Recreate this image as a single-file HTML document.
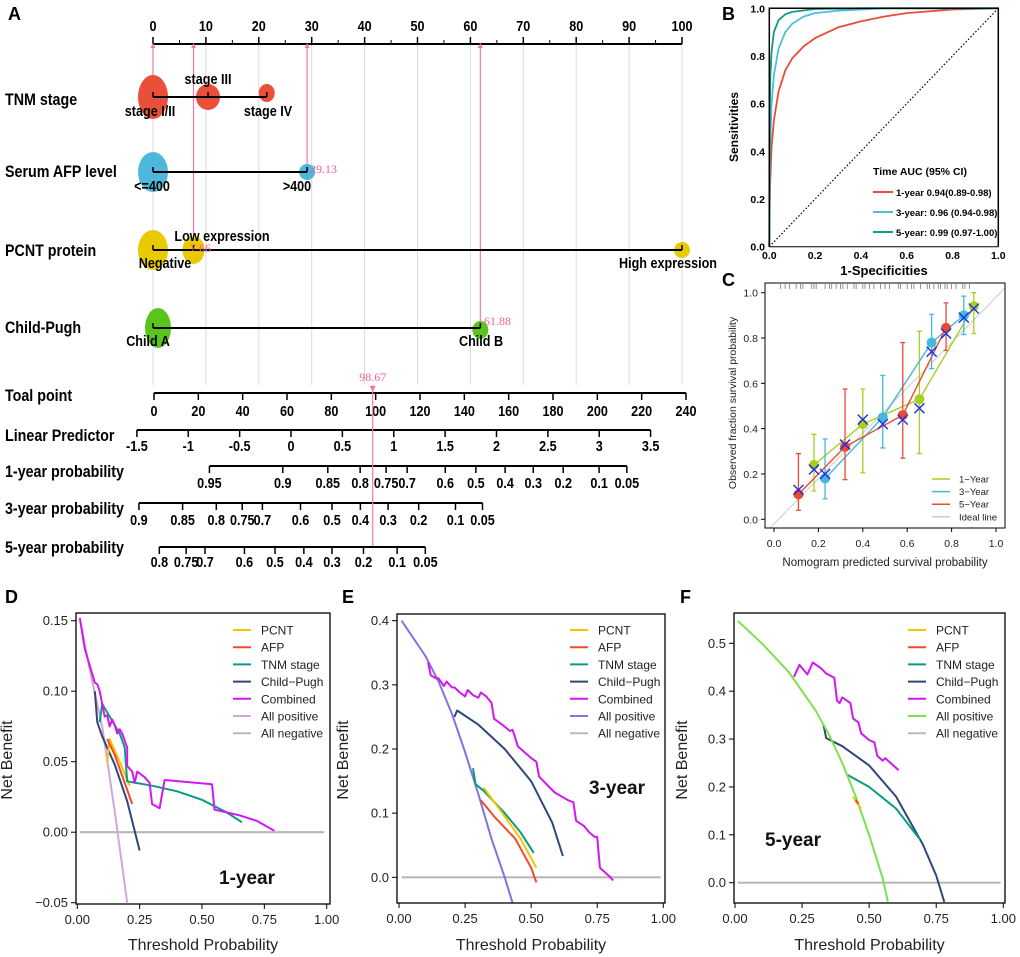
<!DOCTYPE html>
<html><head><meta charset="utf-8">
<style>
html,body{margin:0;padding:0;background:#fff;}
svg{display:block;font-family:"Liberation Sans",sans-serif;}
.nar{font-family:"Liberation Sans Narrow","Liberation Sans",sans-serif;font-weight:bold;}
</style></head>
<body>
<svg id="fig" width="1020" height="957" viewBox="0 0 1020 957"></svg>
<script>
// ---------- Nomogram data ----------
const pointTicks=[0,10,20,30,40,50,60,70,80,90,100];
const tnmLevels=['stage I/II','stage III','stage IV'];
const tnmPoints=[0,10.4,21.5];
const afpLevels=['<=400','>400'];
const afpPoints=[0,29.13];
const pcntLevels=['Negative','Low expression','High expression'];
const pcntPoints=[0,7.66,100];
const childLevels=['Child A','Child B'];
const childPoints=[0,61.88];
const totalTicks=[0,20,40,60,80,100,120,140,160,180,200,220,240];
const linearTicks=[-1.5,-1,-0.5,0,0.5,1,1.5,2,2.5,3,3.5];
const prob1Labels=['0.95','0.9','0.85','0.8','0.75','0.7','0.6','0.5','0.4','0.3','0.2','0.1','0.05'];
const prob1Total=[25.0,58.1,78.4,93.0,104.7,114.2,131.4,145.2,158.4,171.1,184.6,200.8,213.3];
const prob3Labels=['0.9','0.85','0.8','0.75','0.7','0.6','0.5','0.4','0.3','0.2','0.1','0.05'];
const prob3Total=[-6.8,12.9,28.1,39.8,48.9,66.1,80.3,93.1,105.6,119.4,136.0,148.2];
const prob5Labels=['0.8','0.75','0.7','0.6','0.5','0.4','0.3','0.2','0.1','0.05'];
const prob5Total=[2.4,14.5,23.0,40.8,54.6,67.6,80.3,94.5,109.7,122.4];
const totalScore=98.67;

// ---------- ROC data (panel B) ----------
const rocFpr1=[0,0.003,0.01,0.02,0.04,0.07,0.1,0.15,0.2,0.3,0.4,0.5,0.6,0.8,1];
const rocTpr1=[0,0.25,0.42,0.53,0.65,0.74,0.79,0.84,0.875,0.92,0.945,0.965,0.98,0.995,1];
const rocFpr3=[0,0.003,0.01,0.02,0.04,0.07,0.1,0.15,0.2,0.3,0.5,1];
const rocTpr3=[0,0.4,0.6,0.72,0.83,0.9,0.935,0.965,0.98,0.99,1,1];
const rocFpr5=[0,0.002,0.005,0.01,0.02,0.04,0.07,0.1,0.2,0.4,1];
const rocTpr5=[0,0.55,0.72,0.82,0.9,0.95,0.975,0.985,0.997,1,1];
const rocLabels=['1-year 0.94(0.89-0.98)','3-year: 0.96 (0.94-0.98)','5-year: 0.99 (0.97-1.00)'];

// ---------- Calibration data (panel C) ----------
const cal1X=[0.18,0.40,0.655,0.90], cal1Y=[0.24,0.42,0.53,0.94], cal1Lo=[0.125,0.205,0.29,0.82], cal1Hi=[0.375,0.575,0.83,1.0];
const cal3X=[0.23,0.49,0.71,0.855], cal3Y=[0.18,0.45,0.78,0.90], cal3Lo=[0.09,0.315,0.665,0.815], cal3Hi=[0.355,0.635,0.905,0.985];
const cal5X=[0.11,0.32,0.58,0.775], cal5Y=[0.11,0.32,0.46,0.845], cal5Lo=[0.04,0.175,0.27,0.745], cal5Hi=[0.29,0.575,0.78,0.955];
const calCorrX=[0.11,0.18,0.23,0.32,0.40,0.49,0.58,0.655,0.71,0.775,0.855,0.90];
const calCorrY=[0.13,0.22,0.20,0.33,0.44,0.42,0.44,0.49,0.74,0.82,0.89,0.93];
const rugX=[0.03,0.05,0.07,0.1,0.12,0.13,0.17,0.18,0.19,0.23,0.25,0.26,0.28,0.3,0.31,0.33,0.36,0.37,0.4,0.41,0.43,0.45,0.48,0.5,0.52,0.56,0.57,0.6,0.62,0.63,0.66,0.69,0.7,0.72,0.74,0.75,0.77,0.78,0.8,0.82,0.85,0.86,0.88];

// ---------- DCA data D (1-year) ----------
const dAllPosX=[0.01,0.05,0.1,0.15,0.2], dAllPosY=[0.152,0.115,0.075,0.015,-0.05];
const dCombX=[0.01,0.03,0.05,0.07,0.08,0.09,0.1,0.11,0.12,0.13,0.14,0.15,0.16,0.17,0.18,0.2,0.2,0.22,0.23,0.24,0.27,0.29,0.3,0.33,0.35,0.54,0.55,0.65,0.72,0.79];
const dCombY=[0.152,0.13,0.118,0.106,0.105,0.1,0.091,0.082,0.083,0.075,0.08,0.076,0.07,0.073,0.07,0.06,0.047,0.043,0.035,0.043,0.039,0.035,0.02,0.017,0.037,0.034,0.016,0.012,0.008,0.001];
const dTnmX=[0.09,0.1,0.13,0.17,0.19,0.2,0.3,0.4,0.5,0.6,0.66], dTnmY=[0.078,0.091,0.082,0.07,0.06,0.036,0.033,0.029,0.023,0.014,0.007];
const dChildX=[0.07,0.08,0.1,0.15,0.2,0.25], dChildY=[0.1,0.078,0.068,0.048,0.022,-0.013];
const dAfpX=[0.12,0.15,0.22], dAfpY=[0.066,0.055,0.02];
const dPcntX=[0.12,0.13,0.17,0.21], dPcntY=[0.05,0.066,0.05,0.033];
// ---------- DCA data E (3-year) ----------
const eAllPosX=[0.01,0.1,0.15,0.2,0.25,0.3,0.35,0.4,0.43], eAllPosY=[0.4,0.345,0.305,0.255,0.195,0.13,0.06,0.0,-0.04];
const eCombX=[0.11,0.12,0.14,0.15,0.17,0.18,0.2,0.21,0.23,0.25,0.26,0.28,0.3,0.31,0.33,0.35,0.36,0.39,0.42,0.43,0.45,0.5,0.52,0.53,0.57,0.59,0.64,0.66,0.67,0.7,0.72,0.74,0.75,0.76,0.8,0.81];
const eCombY=[0.335,0.315,0.31,0.31,0.298,0.305,0.296,0.296,0.288,0.282,0.292,0.284,0.28,0.288,0.282,0.272,0.247,0.238,0.228,0.23,0.204,0.186,0.18,0.157,0.14,0.132,0.12,0.117,0.088,0.08,0.07,0.063,0.063,0.015,0.0,-0.005];
const eChildX=[0.21,0.22,0.3,0.4,0.5,0.58,0.62], eChildY=[0.25,0.26,0.238,0.2,0.15,0.085,0.033];
const eTnmX=[0.28,0.29,0.32,0.4,0.46,0.51], eTnmY=[0.17,0.145,0.135,0.1,0.07,0.038];
const ePcntX=[0.32,0.4,0.46,0.52], ePcntY=[0.14,0.095,0.06,0.015];
const eAfpX=[0.31,0.36,0.44,0.5,0.52], eAfpY=[0.12,0.095,0.06,0.015,-0.008];
// ---------- DCA data F (5-year) ----------
const fAllPosX=[0.01,0.1,0.2,0.3,0.35,0.4,0.45,0.5,0.55,0.57], fAllPosY=[0.547,0.5,0.44,0.36,0.31,0.25,0.18,0.1,0.01,-0.04];
const fCombX=[0.22,0.24,0.27,0.29,0.32,0.34,0.37,0.38,0.39,0.4,0.43,0.44,0.46,0.47,0.5,0.52,0.53,0.55,0.56,0.58,0.61];
const fCombY=[0.43,0.455,0.435,0.46,0.448,0.437,0.428,0.38,0.375,0.387,0.375,0.343,0.335,0.312,0.298,0.293,0.265,0.255,0.26,0.25,0.235];
const fChildX=[0.33,0.34,0.4,0.5,0.6,0.7,0.75,0.78], fChildY=[0.33,0.302,0.285,0.245,0.18,0.08,0.015,-0.04];
const fTnmX=[0.42,0.5,0.6,0.69], fTnmY=[0.225,0.2,0.155,0.09];
const fPcntX=[0.44,0.45,0.47], fPcntY=[0.18,0.17,0.155];
const fAfpX=[0.45,0.46], fAfpY=[0.172,0.165];

const dcaLegend=['PCNT','AFP','TNM stage','Child\u2212Pugh','Combined','All positive','All negative'];

const NS='http://www.w3.org/2000/svg';
const svg=document.getElementById('fig');
function mk(p,tag,a,t){const e=document.createElementNS(NS,tag);for(const k in a)e.setAttribute(k,a[k]);if(t!=null)e.textContent=t;p.appendChild(e);return e;}
function poly(xs,ys,sx,sy){return xs.map((x,i)=>sx(x).toFixed(1)+','+sy(ys[i]).toFixed(1)).join(' ');}
// condensed text for nomogram
function ntext(p,x,y,size,anchor,str){return mk(p,'text',{x:0,y:0,'font-size':size,'text-anchor':anchor,class:'nar',transform:`translate(${x},${y}) scale(0.84,1)`},str);}

// ===================== Panel A: nomogram =====================
const gA=mk(svg,'g',{});


let lab=mk(gA,'text',{x:8,y:20,'font-size':18,'font-weight':'bold'},'A');


const px=p=>153+p*5.29;
const tx=t=>154+t*(532/240);
const lpx=v=>136.9+(v+1.5)*102.74;
for(let p=0;p<=100;p+=10){
  const g=mk(gA,'line',{x1:px(p),x2:px(p),y1:44,y2:385,stroke:'#dcdcdc','stroke-width':1});
  
  
}
let pa=mk(gA,'line',{x1:px(0),x2:px(100),y1:44,y2:44,stroke:'#000','stroke-width':2});


pointTicks.forEach(p=>{
  const t=mk(gA,'line',{x1:px(p),x2:px(p),y1:37,y2:44,stroke:'#000','stroke-width':1.5});
  
  
  const l=ntext(gA,px(p),31,15,'middle',String(p));
  
  
});
for(let p=0;p<=100;p+=5){const t=mk(gA,'line',{x1:px(p),x2:px(p),y1:40,y2:44,stroke:'#000'});}
[[0,92],[pcntPoints[1],246],[afpPoints[1],168],[childPoints[1],325]].forEach(([p,y2])=>{
  const l=mk(gA,'line',{x1:px(p),x2:px(p),y1:44,y2:y2,stroke:'#f07aa8','stroke-width':1.2});
  
  
  const a=mk(gA,'polygon',{points:`${px(p)-2.5},48 ${px(p)+2.5},48 ${px(p)},43`,fill:'#f07aa8'});
  
  
});
function varRow(name,levels,pts,y,color,sizes,labelPos,title,ty,score,scorePos){
  const t=ntext(gA,5,ty,17,'start',title);
  
  
  levels.forEach((lv,i)=>{
    const e=mk(gA,'ellipse',{cx:px(pts[i])+(sizes[i][2]||0),cy:y+(sizes[i][3]||0),rx:sizes[i][0],ry:sizes[i][1],fill:color});
    
    
  });
  const ln=mk(gA,'line',{x1:px(pts[0]),x2:px(Math.max(...pts)),y1:y,y2:y,stroke:'#000','stroke-width':2});
  
  
  pts.forEach(p=>{const k=mk(gA,'line',{x1:px(p),x2:px(p),y1:y-5,y2:y,stroke:'#000','stroke-width':1.5});});
  levels.forEach((lv,i)=>{
    const l=ntext(gA,labelPos[i][0],labelPos[i][1],15,labelPos[i][2]||'middle',lv);
    
    
  });
  if(score!=null){
    const s=mk(gA,'text',{x:scorePos[0],y:scorePos[1],'font-size':12,fill:'#f0609a','font-family':'Liberation Serif,serif'},score.toFixed(2));
    
    
  }
}
varRow('tnm-stage',tnmLevels,tnmPoints,97,'#e8503a',[[15,22],[12,13],[8,9,0,-4]],[[150,116],[208,84],[268,116]],'TNM stage',105,null);
varRow('serum-afp',afpLevels,afpPoints,172,'#4cb9dc',[[15,20],[8,8]],[[152,191],[297,191]],'Serum AFP level',177,afpPoints[1],[310,173]);
varRow('pcnt-protein',pcntLevels,pcntPoints,250,'#e9c900',[[15,20],[11,14],[8,8]],[[165,268],[222,241],[668,268]],'PCNT protein',256,pcntPoints[1],[190,252]);
varRow('child-pugh',childLevels,childPoints,328,'#59c41c',[[13,20,5],[8,9,0,2]],[[148,346],[481,346]],'Child-Pugh',333,childPoints[1],[484,325]);
function scaleRow(name,title,ty,y,xs,labels,ly){
  const t=ntext(gA,5,ty,17,'start',title);
  
  
  const l=mk(gA,'line',{x1:Math.min(...xs),x2:Math.max(...xs),y1:y,y2:y,stroke:'#000','stroke-width':2});
  
  
  xs.forEach((x,i)=>{
    const k=mk(gA,'line',{x1:x,x2:x,y1:y,y2:y+7,stroke:'#000','stroke-width':1.5});
    
    
    const tl=ntext(gA,x,ly,15,'middle',labels[i]);
    
    
  });
}
scaleRow('total-point','Toal point',401,393,totalTicks.map(tx),totalTicks.map(String),416);
scaleRow('linear-predictor','Linear Predictor',441,430,linearTicks.map(lpx),linearTicks.map(String),451);
scaleRow('prob-1-year','1-year probability',477,466,prob1Total.map(tx),prob1Labels,488);
scaleRow('prob-3-year','3-year probability',514,503,prob3Total.map(tx),prob3Labels,525);
scaleRow('prob-5-year','5-year probability',553,547,prob5Total.map(tx),prob5Labels,567);
let tl=mk(gA,'line',{x1:tx(totalScore),x2:tx(totalScore),y1:385,y2:546,stroke:'#f07aa8','stroke-width':1.2});


let ts=mk(gA,'text',{x:tx(totalScore),y:381,'font-size':12,fill:'#f0609a','text-anchor':'middle','font-family':'Liberation Serif,serif'},totalScore.toFixed(2));


let ta=mk(gA,'polygon',{points:`${tx(totalScore)-3},386 ${tx(totalScore)+3},386 ${tx(totalScore)},392`,fill:'#f07aa8'});



// ===================== Panel B: ROC =====================
const gB=mk(svg,'g',{});


lab=mk(gB,'text',{x:722,y:20,'font-size':18,'font-weight':'bold'},'B');


const bx=v=>769.3+v*229, by=v=>246.7-v*238.4;
let diag=mk(gB,'line',{x1:bx(0),y1:by(0),x2:bx(1),y2:by(1),stroke:'#000','stroke-width':1.2,'stroke-dasharray':'1.5,2'});


[[rocFpr1,rocTpr1,'#ec4b38'],[rocFpr3,rocTpr3,'#4dbfdc'],[rocFpr5,rocTpr5,'#0b9e80']].forEach(([xs,ys,c],i)=>{
  const p=mk(gB,'polyline',{points:poly(xs,ys,bx,by),fill:'none',stroke:c,'stroke-width':1.8,'stroke-linejoin':'round'});
  
  
  const ll=mk(gB,'line',{x1:873,x2:893,y1:192+i*20,y2:192+i*20,stroke:c,'stroke-width':2});
  
  
  const lt=mk(gB,'text',{x:896,y:196+i*20,'font-size':9.5,'font-weight':'bold'},rocLabels[i]);
  
  
});
let bf=mk(gB,'path',{d:`M${bx(0)},${by(0)} V${by(1)} H${bx(1)} V${by(0)}`,fill:'none',stroke:'#000','stroke-width':1.5});


let bax=mk(gB,'line',{x1:bx(0),x2:bx(1),y1:by(0),y2:by(0),stroke:'#000','stroke-width':1});


let lh=mk(gB,'text',{x:873,y:175,'font-size':10.5,'font-weight':'bold'},'Time AUC (95% CI)');


for(let i=0;i<=5;i++){
  const v=i/5;
  const a=mk(gB,'text',{x:765,y:by(v)+4,'font-size':10.5,'font-weight':'bold','text-anchor':'end'},v.toFixed(1));
  
  
  const b=mk(gB,'text',{x:bx(v),y:259,'font-size':10.5,'font-weight':'bold','text-anchor':'middle'},v.toFixed(1));
  
  
}
let byt=mk(gB,'text',{x:0,y:0,'font-size':12,'font-weight':'bold','text-anchor':'middle',transform:'translate(738,127) rotate(-90)'},'Sensitivities');


let bxt=mk(gB,'text',{x:884,y:275,'font-size':13,'font-weight':'bold','text-anchor':'middle'},'1-Specificities');



// ===================== Panel C: calibration =====================
const gC=mk(svg,'g',{});


lab=mk(gC,'text',{x:722,y:286,'font-size':18,'font-weight':'bold'},'C');


const cx=v=>774+v*222, cy=v=>519.3-v*226.6;
let ideal=mk(gC,'line',{x1:cx(-0.02),y1:cy(-0.04),x2:cx(1.04),y2:cy(1.02),stroke:'#d4d4d4','stroke-width':1.2});


rugX.forEach(v=>{const r=mk(gC,'line',{x1:cx(v),x2:cx(v),y1:284,y2:289,stroke:'#777','stroke-width':0.8});});
[[cal1X,cal1Y,cal1Lo,cal1Hi,'#a6d020','1-year'],[cal3X,cal3Y,cal3Lo,cal3Hi,'#45b8dc','3-year'],[cal5X,cal5Y,cal5Lo,cal5Hi,'#ea4a32','5-year']].forEach(([xs,ys,lo,hi,c,n])=>{
  const p=mk(gC,'polyline',{points:poly(xs,ys,cx,cy),fill:'none',stroke:c,'stroke-width':1.4});
  
  
  xs.forEach((x,i)=>{
    const e=mk(gC,'path',{d:`M${cx(x)-2.5},${cy(lo[i])}H${cx(x)+2.5}M${cx(x)},${cy(lo[i])}V${cy(hi[i])}M${cx(x)-2.5},${cy(hi[i])}H${cx(x)+2.5}`,stroke:c,'stroke-width':1.3,fill:'none'});
    
    
    const d=mk(gC,'circle',{cx:cx(x),cy:cy(ys[i]),r:5,fill:c});
    
    
  });
});
calCorrX.forEach((x,i)=>{
  const X=cx(x),Y=cy(calCorrY[i]);
  const m=mk(gC,'path',{d:`M${X-5},${Y-5}L${X+5},${Y+5}M${X-5},${Y+5}L${X+5},${Y-5}`,stroke:'#1a2ee8','stroke-width':1.4});
  
  
});
let cf=mk(gC,'rect',{x:765,y:283,width:240,height:245,fill:'none',stroke:'#000','stroke-width':1});


for(let i=0;i<=5;i++){
  const v=i/5;
  const a=mk(gC,'text',{x:758,y:cy(v)+4,'font-size':10.5,'text-anchor':'end',fill:'#222'},v.toFixed(1));
  
  
  const at=mk(gC,'line',{x1:761,x2:765,y1:cy(v),y2:cy(v),stroke:'#000'});
  
  
  const b=mk(gC,'text',{x:cx(v),y:547,'font-size':10.5,'text-anchor':'middle',fill:'#222'},v.toFixed(1));
  
  
  const bt=mk(gC,'line',{x1:cx(v),x2:cx(v),y1:528,y2:532,stroke:'#000'});
  
  
}
let cyt=mk(gC,'text',{x:0,y:0,'font-size':10.5,'text-anchor':'middle',fill:'#222',transform:'translate(736,403) rotate(-90)'},'Observed fraction survival probability');


let cxt=mk(gC,'text',{x:885,y:566,'font-size':11.5,'text-anchor':'middle',fill:'#222'},'Nomogram predicted survival probability');


[['1\u2212Year','#a6d020'],['3\u2212Year','#45b8dc'],['5\u2212Year','#ea4a32'],['Ideal line','#cccccc']].forEach(([t,c],i)=>{
  const y=479+i*12.6;
  const s=mk(gC,'line',{x1:932,x2:950,y1:y,y2:y,stroke:c,'stroke-width':1.5});
  
  
  const l=mk(gC,'text',{x:959,y:y+3.5,'font-size':9.5,fill:'#222'},t);
  
  
});

// ===================== Panels D/E/F: DCA =====================
const C_PCNT='#f5c400',C_AFP='#ee4a2c',C_TNM='#0a9c80',C_CHILD='#2e4878',C_COMB='#d218f2',C_NEG='#b8b8b8';
function dca(key,letter,box,xa,ya,yTicks,yDec,series,allPosColor,label,labelPos,legX,labX,ytX,ytY){
  const g=mk(svg,'g',{});
  
  
  const L=mk(g,'text',{x:letter[1],y:603,'font-size':18,'font-weight':'bold'},letter[0]);
  
  
  const sx=v=>xa[0]+v*(xa[1]-xa[0]);
  const sy=v=>ya[0]+(v-ya[2])*(ya[1]-ya[0])/(ya[3]-ya[2]);
  const cp=mk(g,'clipPath',{id:'clip'+key});
  mk(cp,'rect',{x:box[0],y:box[1],width:box[2]-box[0],height:box[3]-box[1]});
  const neg=mk(g,'line',{x1:sx(0.01),x2:sx(0.99),y1:sy(0),y2:sy(0),stroke:C_NEG,'stroke-width':2.2});
  
  
  series.forEach(([xs,ys,c,n])=>{
    const p=mk(g,'polyline',{points:poly(xs,ys,sx,sy),fill:'none',stroke:c,'stroke-width':2,'stroke-linejoin':'round','clip-path':`url(#clip${key})`});
    
    
  });
  const f=mk(g,'rect',{x:box[0],y:box[1],width:box[2]-box[0],height:box[3]-box[1],fill:'none',stroke:'#000','stroke-width':1.3});
  
  
  yTicks.forEach(v=>{
    const t=mk(g,'line',{x1:box[0]-5,x2:box[0],y1:sy(v),y2:sy(v),stroke:'#000'});
    
    
    const l=mk(g,'text',{x:box[0]-8,y:sy(v)+4.5,'font-size':13,'text-anchor':'end',fill:'#222'},(v<0?'\u2212'+Math.abs(v).toFixed(yDec):v.toFixed(yDec)));
    
    
  });
  [0,0.25,0.5,0.75,1].forEach(v=>{
    const t=mk(g,'line',{x1:sx(v),x2:sx(v),y1:box[3],y2:box[3]+5,stroke:'#000'});
    
    
    const l=mk(g,'text',{x:sx(v),y:box[3]+20,'font-size':13,'text-anchor':'middle',fill:'#222'},v.toFixed(2));
    
    
  });
  const xt=mk(g,'text',{x:(box[0]+box[2])/2,y:950,'font-size':16,'text-anchor':'middle',fill:'#222'},'Threshold Probability');
  
  
  const yt=mk(g,'text',{x:0,y:0,'font-size':16,'text-anchor':'middle',fill:'#222',transform:`translate(${ytX},${ytY}) rotate(-90)`},'Net Benefit');
  
  
  const cols=[C_PCNT,C_AFP,C_TNM,C_CHILD,C_COMB,allPosColor,C_NEG];
  dcaLegend.forEach((t,i)=>{
    const y=630+i*17.2;
    const s=mk(g,'line',{x1:legX,x2:legX+18,y1:y,y2:y,stroke:cols[i],'stroke-width':2});
    
    
    const l=mk(g,'text',{x:labX,y:y+4.5,'font-size':12,fill:'#222'},t);
    
    
  });
  const tag=mk(g,'text',{x:labelPos[0],y:labelPos[1],'font-size':19,'font-weight':'bold',fill:'#111'},label);
  
  
}
dca('d',['D',5],[76,613,330,904],[77.3,326.7],[620.7,902.7,0.15,-0.05],[0.15,0.10,0.05,0,-0.05],2,
 [[dAllPosX,dAllPosY,'#d2a6d8','all-positive'],[dChildX,dChildY,C_CHILD,'child-pugh'],[dPcntX,dPcntY,C_PCNT,'pcnt'],[dAfpX,dAfpY,C_AFP,'afp'],[dTnmX,dTnmY,C_TNM,'tnm-stage'],[dCombX,dCombY,C_COMB,'combined']],
 '#d2a6d8','1-year',[219,884],233,261,12,760);
dca('e',['E',342],[397,614,665,903],[399,663.3],[620.7,877.3,0.4,0],[0.4,0.3,0.2,0.1,0],1,
 [[eAllPosX,eAllPosY,'#8870e0','all-positive'],[eChildX,eChildY,C_CHILD,'child-pugh'],[eTnmX,eTnmY,C_TNM,'tnm-stage'],[ePcntX,ePcntY,C_PCNT,'pcnt'],[eAfpX,eAfpY,C_AFP,'afp'],[eCombX,eCombY,C_COMB,'combined']],
 '#8870e0','3-year',[589,794],570,598,348,760);
dca('f',['F',680],[734,613,1005,903],[735,1003.3],[643.3,882.7,0.5,0],[0.5,0.4,0.3,0.2,0.1,0],1,
 [[fChildX,fChildY,C_CHILD,'child-pugh'],[fTnmX,fTnmY,C_TNM,'tnm-stage'],[fAllPosX,fAllPosY,'#7ee050','all-positive'],[fPcntX,fPcntY,C_PCNT,'pcnt'],[fAfpX,fAfpY,C_AFP,'afp'],[fCombX,fCombY,C_COMB,'combined']],
 '#7ee050','5-year',[765,846],908,936,687,760);
</script>
</body></html>
